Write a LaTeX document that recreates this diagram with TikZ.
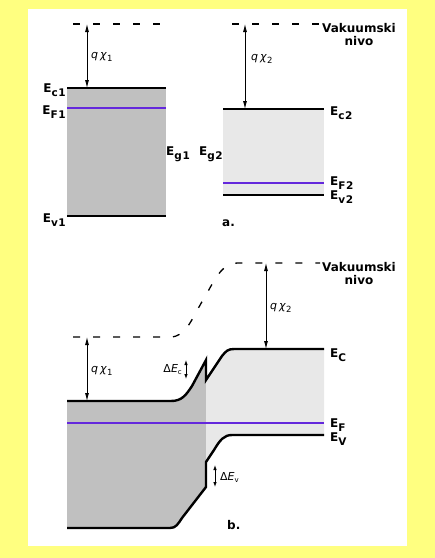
\documentclass[tikz,border=0pt]{standalone}
\usepackage{fontspec}
\setmainfont{DejaVu Sans}
\usepackage{xcolor}
\usepackage{tikz}
\usetikzlibrary{arrows.meta,positioning}

\definecolor{bgyellow}{RGB}{255,255,128}
\definecolor{darkband}{RGB}{192,192,192}
\definecolor{lightband}{RGB}{232,232,232}
\definecolor{fermiviolet}{RGB}{100,40,220}

\newcommand{\Esub}[1]{E\raisebox{-4pt}{\fontsize{10.5}{10}\selectfont\addfontfeature{LetterSpace=6}#1}}
\newcommand{\qchi}[1]{\textit{q}\kern2pt\textit{χ}\raisebox{-3.5pt}{\fontsize{8.5}{8}\selectfont #1}}

\begin{document}
\begin{tikzpicture}[x=1pt, y=-1pt,
  level/.style={line width=2.4pt},
  fermi/.style={draw=fermiviolet, line width=1.1pt},
  vacuum/.style={line width=1.3pt, dash pattern=on 7pt off 13pt},
  gap/.style={{Latex[length=8pt,width=4pt]}-{Latex[length=8pt,width=4pt]}, line width=0.8pt},
  offset/.style={{Latex[length=5pt,width=3.5pt]}-{Latex[length=5pt,width=3.5pt]}, line width=0.8pt},
  lbl/.style={font=\bfseries\fontsize{12}{13}\selectfont, inner sep=0pt},
  sml/.style={font=\fontsize{11}{12}\selectfont, inner sep=0pt}
]
\useasboundingbox (0,0) rectangle (435,558);
\fill[bgyellow] (0,0) rectangle (435,558);
\fill[white] (28,9) rectangle (407,546);

% a. separated semiconductors
\coordinate (c1L) at (67,88);   \coordinate (c1R) at (166,88);
\coordinate (f1L) at (67,108);  \coordinate (f1R) at (166,108);
\coordinate (v1L) at (67,216);  \coordinate (v1R) at (166,216);
\coordinate (c2L) at (223,109); \coordinate (c2R) at (324,109);
\coordinate (f2L) at (223,183); \coordinate (f2R) at (324,183);
\coordinate (v2L) at (223,195); \coordinate (v2R) at (324,195);
\coordinate (vac1L) at (73,24);  \coordinate (vac1R) at (160,24);
\coordinate (vac2L) at (232,24); \coordinate (vac2R) at (320,24);
\coordinate (chi1t) at (87,24);  \coordinate (chi1b) at (87,88);
\coordinate (chi2t) at (245,24); \coordinate (chi2b) at (245,109);

\fill[darkband] (c1L) rectangle (v1R);
\fill[lightband] (c2L) rectangle (v2R);
\draw[fermi] (f1L) -- (f1R);
\draw[fermi] (f2L) -- (f2R);
\draw[level] (c1L) -- (c1R);
\draw[level] (v1L) -- (v1R);
\draw[level] (c2L) -- (c2R);
\draw[level] (v2L) -- (v2R);
\draw[vacuum] (vac1L) -- (vac1R);
\draw[vacuum] (vac2L) -- (vac2R);
\draw[gap] (chi1t) -- (chi1b);
\draw[gap] (chi2t) -- (chi2b);

\node[lbl, anchor=base east] (ec1) at (66,92) {\Esub{c1}};
\node[lbl, anchor=base east] (ef1) at (66,114) {\Esub{F1}};
\node[lbl, anchor=base east] (ev1) at (66,222) {\Esub{v1}};
\node[lbl, anchor=base west] (eg1) at (166,155) {\Esub{g1}};
\node[lbl, anchor=base east] (eg2) at (223,155) {\Esub{g2}};
\node[lbl, anchor=base west] (ec2) at (330,115) {\Esub{c2}};
\node[lbl, anchor=base west] (ef2) at (330,185) {\Esub{F2}};
\node[lbl, anchor=base west] (ev2) at (330,199) {\Esub{v2}};
\node[lbl, anchor=base west] (vak1) at (322,32) {Vakuumski};
\node[lbl, below=4pt of vak1] (niv1) {nivo};
\node[sml, anchor=west] (chi1a) at (91,57) {\qchi{1}};
\node[sml, anchor=west] (chi2a) at (251,59) {\qchi{2}};
\node[lbl, anchor=base west] (parta) at (222,226) {a.};

% b. heterojunction
\coordinate (vac3L) at (73,337);
\coordinate (vac3R) at (320,263);
\coordinate (chi3t) at (87,337);  \coordinate (chi3b) at (87,401);
\coordinate (chi4t) at (266,263); \coordinate (chi4b) at (266,349);
\coordinate (dect) at (186,360);  \coordinate (decb) at (186,379);
\coordinate (devt) at (215,465);  \coordinate (devb) at (215,487);
\coordinate (fbL) at (67,423);    \coordinate (fbR) at (324,423);

\fill[darkband] (67,401) -- (171,401) .. controls (182,401) and (186,395) .. (192,386)
  -- (206,360) -- (206,487) -- (182,518) .. controls (178,524) and (176,528) .. (170,528)
  -- (67,528) -- cycle;
\fill[lightband] (206,380) -- (222,356) .. controls (226,351) and (228,349) .. (234,349)
  -- (324,349) -- (324,435) -- (232,435) .. controls (224,435) and (220,440) .. (214,450)
  -- (206,462) -- cycle;
\draw[fermi] (fbL) -- (fbR);
\draw[level, line join=miter] (67,401) -- (171,401) .. controls (182,401) and (186,395) .. (192,386)
  -- (206,360) -- (206,380) -- (222,356) .. controls (226,351) and (228,349) .. (234,349)
  -- (324,349);
\draw[level, line join=miter] (67,528) -- (170,528) .. controls (176,528) and (178,524) .. (182,518)
  -- (206,487) -- (206,462) -- (214,450) .. controls (220,440) and (224,435) .. (232,435)
  -- (324,435);
\draw[vacuum] (vac3L) -- (170,337) .. controls (186,337) and (191,320) .. (203,300)
  .. controls (215,280) and (221,263) .. (238,263) -- (vac3R);
\draw[gap] (chi3t) -- (chi3b);
\draw[gap] (chi4t) -- (chi4b);
\draw[offset] (dect) -- (decb);
\draw[offset] (devt) -- (devb);

\node[lbl, anchor=base west] (ecb) at (330,357) {\Esub{C}};
\node[lbl, anchor=base west] (efb) at (330,427) {\Esub{F}};
\node[lbl, anchor=base west] (evb) at (330,441) {\Esub{V}};
\node[lbl, anchor=base west] (vak2) at (322,271) {Vakuumski};
\node[lbl, below=4pt of vak2] (niv2) {nivo};
\node[sml, anchor=west] (chi1c) at (91,371) {\qchi{1}};
\node[sml, anchor=west] (chi2c) at (270,308) {\qchi{2}};
\node[sml, anchor=east] (dEc) at (182,370) {Δ\textit{E}\raisebox{-2pt}{\fontsize{7}{6}\selectfont c}};
\node[sml, anchor=west] (dEv) at (220,477) {Δ\textit{E}\raisebox{-2pt}{\fontsize{7}{6}\selectfont v}};
\node[lbl, anchor=base west] (partb) at (227,529) {b.};
\end{tikzpicture}
\end{document}
